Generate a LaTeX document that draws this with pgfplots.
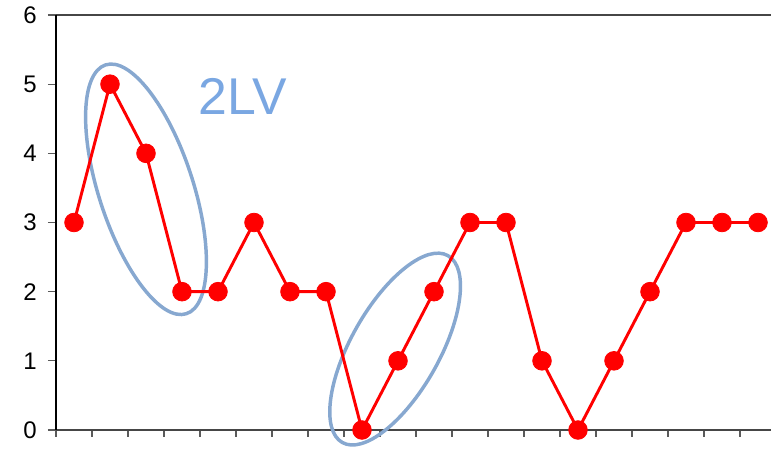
\documentclass[border=0pt]{standalone}
\usepackage{fontspec}
\setmainfont{Liberation Sans}
\usepackage{pgfplots}
\pgfplotsset{compat=1.18}
\definecolor{ellblue}{RGB}{135,168,208}
\definecolor{txtblue}{RGB}{122,167,226}
\definecolor{axgray}{RGB}{70,70,70}
\definecolor{tickgray}{RGB}{90,90,90}
\begin{document}
\begin{tikzpicture}
\begin{axis}[
  at={(0,0)}, anchor=south west,
  scale only axis,
  width=536.25pt, height=311.25pt,
  xmin=0.5, xmax=20.361,
  ymin=0, ymax=6,
  clip=false,
  axis line style={draw=none},
  tick align=outside,
  tick pos=left,
  xtick={0.5,1.5,...,19.5},
  xticklabels={},
  ytick={0,1,2,3,4,5,6},
  major tick length=6pt,
  xtick style={/pgfplots/major tick length=5.25pt, line width=0.8pt, color=tickgray},
  ytick style={line width=0.8pt, color=tickgray},
  yticklabels={0,1,2,3,4,5,6},
  yticklabel style={font=\fontsize{18pt}{20pt}\selectfont, xshift=-5pt},
]
\draw[axgray, line width=1.5pt] (rel axis cs:0,1) -- (rel axis cs:1,1);
\draw[axgray, line width=1.5pt] (rel axis cs:0,0) -- (rel axis cs:1,0);
\draw[black, line width=1.5pt] (rel axis cs:0,0) -- (rel axis cs:0,1);
\draw[ellblue, line width=2.6pt] (axis cs:3.0,3.48) ellipse [x radius=98.1pt, y radius=35.4pt, rotate=-72];
\draw[ellblue, line width=2.6pt] (axis cs:9.92,1.17) ellipse [x radius=80.5pt, y radius=33.1pt, rotate=60.5];
\node[txtblue, font=\fontsize{38.8pt}{44pt}\selectfont, inner sep=0pt, anchor=center] at (axis cs:5.69,4.82) {2LV};
\addplot[red, line width=2.2pt, mark=*, mark size=7pt, mark options={solid, fill=red, draw=red, line width=0.6pt}]
coordinates {
(1,3) (2,5) (3,4) (4,2) (5,2) (6,3) (7,2) (8,2) (9,0) (10,1)
(11,2) (12,3) (13,3) (14,1) (15,0) (16,1) (17,2) (18,3) (19,3) (20,3)
};
\end{axis}
\pgfresetboundingbox
\path (-42pt,-27pt) rectangle (536.25pt,322.5pt);
\end{tikzpicture}
\end{document}
